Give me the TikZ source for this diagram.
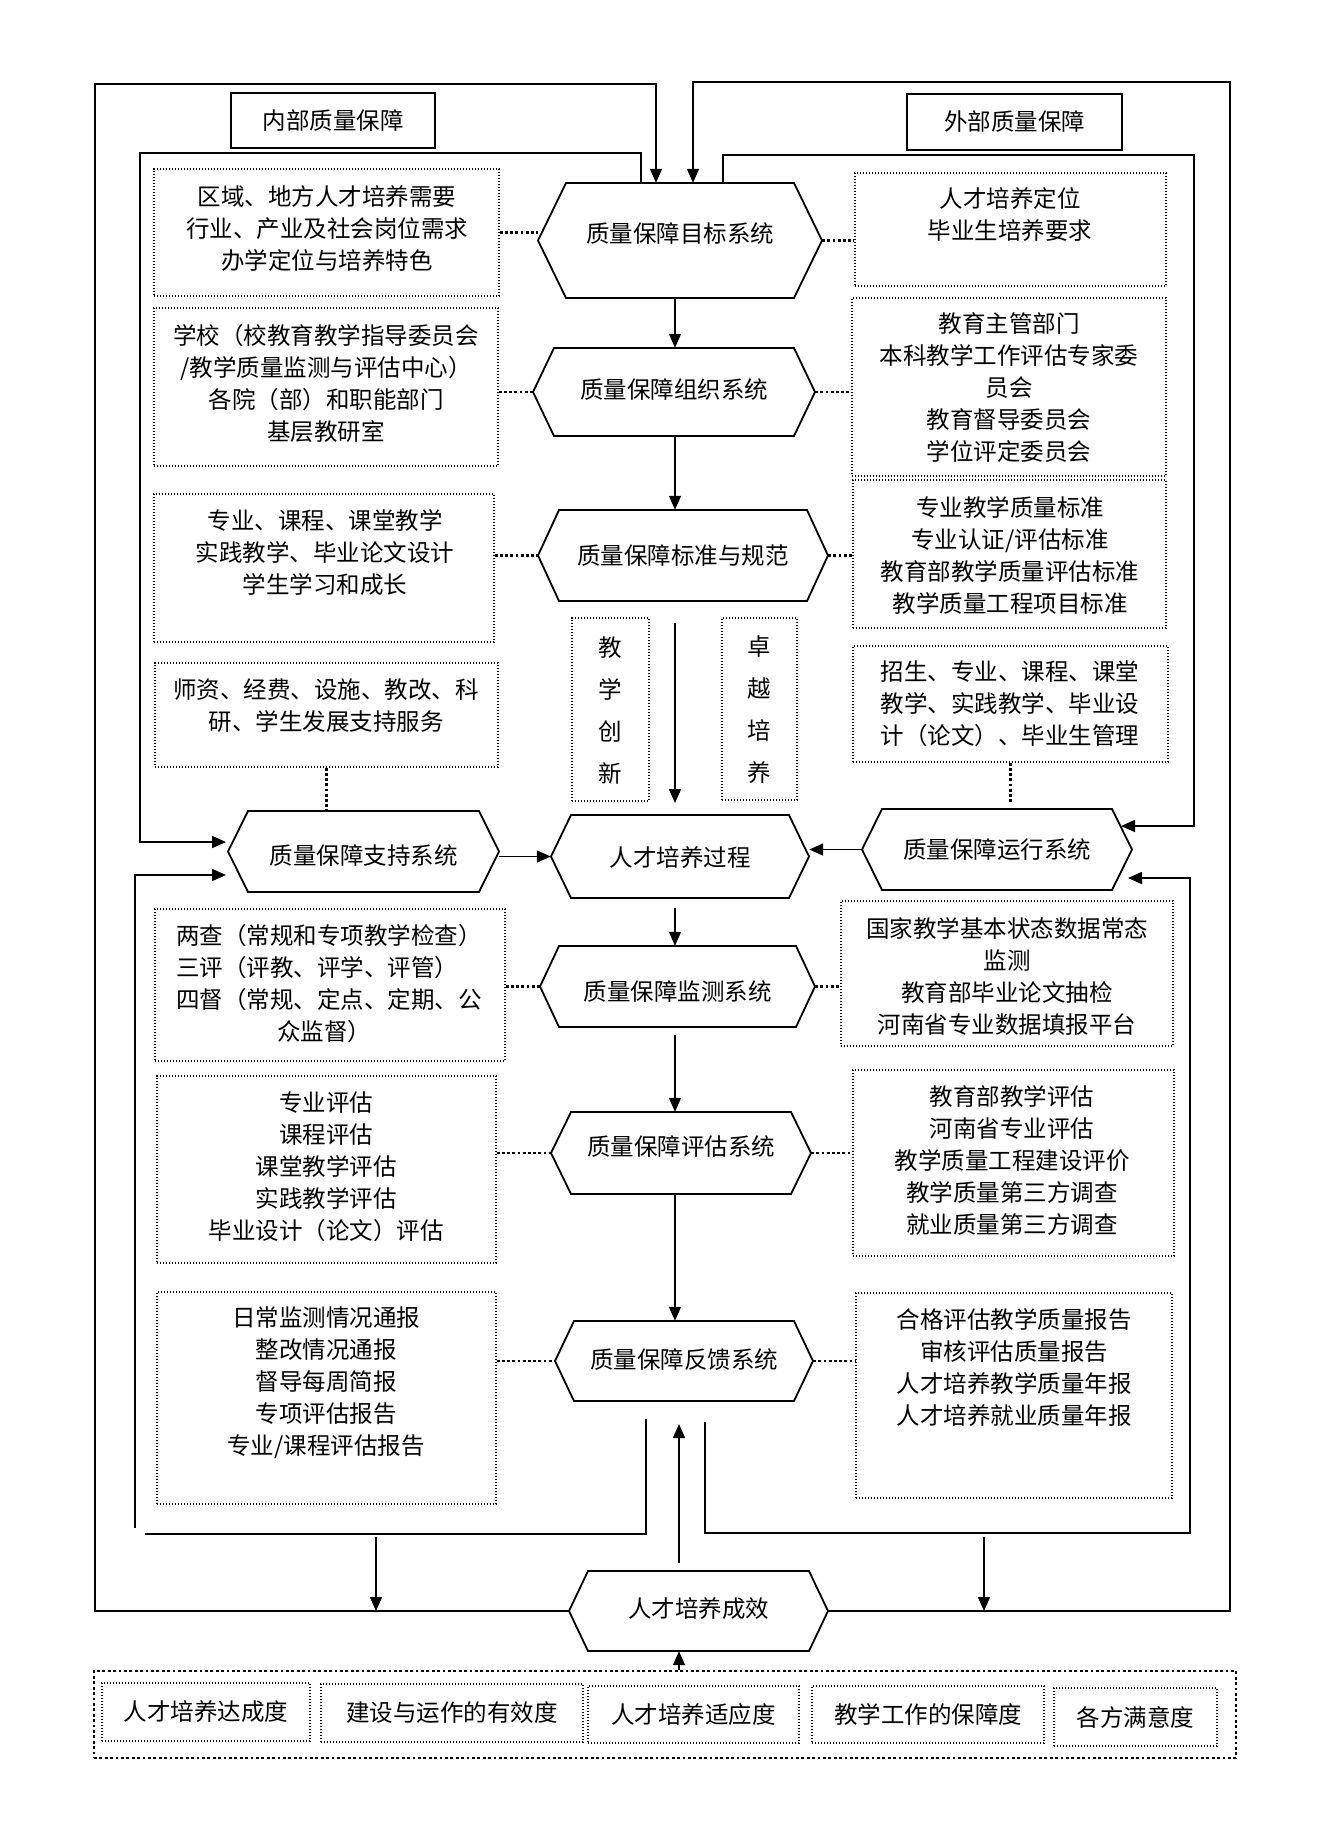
\documentclass[tikz,border=0pt]{standalone}
\usepackage{fontspec}
\setmainfont{Noto Sans CJK SC}
\usetikzlibrary{arrows.meta}
\tikzset{
  ln/.style={line width=1.6pt},
  arr/.style={line width=1.6pt,-{Triangle[length=14pt,width=12pt]}},
  hexln/.style={line width=1.8pt,line join=miter},
  txt/.style={align=center,inner sep=0pt,font=\fontsize{23.5}{32}\selectfont},
  vtxt/.style={align=center,inner sep=0pt,font=\fontsize{23.5}{42}\selectfont},
  dotbox/.style={draw,line width=1.4pt,dash pattern=on 1.4pt off 1.6pt,inner sep=0pt},
  dotlink/.style={line width=2.8pt,dash pattern=on 2.8pt off 2.4pt},
  lblbox/.style={draw,line width=1.8pt,inner sep=0pt,font=\fontsize{23.5}{32}\selectfont},
  outerdot/.style={draw,line width=2.8pt,dash pattern=on 2.8pt off 2.6pt,inner sep=0pt},
}
% #1 name, #2 left tip x, #3 right tip x, #4 top y, #5 bottom y, #6 inset, #7 text, #8 text raise
\newcommand\hexbox[8]{%
  \draw[hexln] (#2,{(#4+#5)/2}) -- ({#2+#6},#4) -- ({#3-#6},#4) -- (#3,{(#4+#5)/2}) -- ({#3-#6},#5) -- ({#2+#6},#5) -- cycle;
  \node[txt,minimum width={#3-#2},minimum height={#5-#4}] (#1) at ({(#2+#3)/2},{(#4+#5)/2}) {\raisebox{#8}[\height][\depth]{#7}};
}
% #1 name, #2 x1, #3 y1, #4 x2, #5 y2
\newcommand\dbox[5]{%
  \node[dotbox,minimum width={#4-#2},minimum height={#5-#3}] (#1) at ({(#2+#4)/2},{(#3+#5)/2}) {};
}
\begin{document}
\begin{tikzpicture}[x=1pt,y=-1pt]
\useasboundingbox (0,0) rectangle (1328,1824);

% label boxes
\node[lblbox,minimum width=204,minimum height=55] (IN) at (333,120.5) {内部质量保障\hspace{18pt}};
\node[lblbox,minimum width=215,minimum height=56] (EX) at (1014.5,122) {外部质量保障\hspace{32pt}};

% hexagons
\hexbox{H1}{538}{822}{183}{298}{28}{质量保障目标系统}{7pt}
\hexbox{H2}{533}{815}{348}{436}{21}{质量保障组织系统}{2pt}
\hexbox{H3}{538}{828}{510}{601}{21}{质量保障标准与规范}{0pt}
\hexbox{HS}{228}{499}{811}{892}{20}{质量保障支持系统}{-4pt}
\hexbox{HP}{551}{809}{815}{898}{20}{人才培养过程}{-1pt}
\hexbox{HR}{862}{1132}{809}{890}{20}{质量保障运行系统}{0pt}
\hexbox{HM}{540}{815}{946}{1027}{19}{质量保障监测系统}{-5pt}
\hexbox{HE}{551}{811}{1112}{1194}{20}{质量保障评估系统}{6pt}
\hexbox{HF}{555}{813}{1321}{1401}{19}{质量保障反馈系统}{1pt}
\hexbox{HO}{569}{828}{1571}{1651}{19}{人才培养成效}{2pt}

% left dotted boxes
\dbox{L1}{154}{169}{499}{296}
\dbox{L2}{154}{308}{498}{466}
\dbox{L3}{154}{494}{494}{642}
\dbox{L4}{155}{663}{498}{767}
\dbox{L5}{155}{909}{505}{1061}
\dbox{L6}{157}{1076}{496}{1263}
\dbox{L7}{157}{1292}{496}{1504}
% right dotted boxes
\dbox{R1}{855}{173}{1166}{286}
\dbox{R2}{852}{298}{1166}{476}
\dbox{R3}{853}{480}{1166}{628}
\dbox{R4}{853}{646}{1168}{762}
\dbox{R5}{841}{901}{1173}{1046}
\dbox{R6}{853}{1070}{1174}{1256}
\dbox{R7}{856}{1293}{1172}{1498}
% vertical boxes
\dbox{V1}{572}{618}{649}{801}
\dbox{V2}{722}{618}{797}{800}

% texts in boxes
\node[txt] (L1t) at (327,229) {区域、地方人才培养需要\\行业、产业及社会岗位需求\\办学定位与培养特色};
\node[txt] (L2t) at (326,383) {学校（校教育教学指导委员会\\/教学质量监测与评估中心）\\各院（部）和职能部门\\基层教研室};
\node[txt] (L3t) at (325,553) {专业、课程、课堂教学\\实践教学、毕业论文设计\\学生学习和成长};
\node[txt] (L4t) at (326,706) {师资、经费、设施、教改、科\\研、学生发展支持服务};
\node[txt,align=left,anchor=west] (L5t) at (176,984) {两查（常规和专项教学检查）\\三评（评教、评学、评管）\\四督（常规、定点、定期、公\\\hspace*{4.3em}众监督）};
\node[txt] (L6t) at (326,1167) {专业评估\\课程评估\\课堂教学评估\\实践教学评估\\毕业设计（论文）评估};
\node[txt] (L7t) at (326,1383) {日常监测情况通报\\整改情况通报\\督导每周简报\\专项评估报告\\专业/课程评估报告};

\node[txt] (R1t) at (1010,215) {人才培养定位\\毕业生培养要求};
\node[txt] (R2t) at (1009,388) {教育主管部门\\本科教学工作评估专家委\\员会\\教育督导委员会\\学位评定委员会};
\node[txt] (R3t) at (1010,555) {专业教学质量标准\\专业认证/评估标准\\教育部教学质量评估标准\\教学质量工程项目标准};
\node[txt] (R4t) at (1010,704) {招生、专业、课程、课堂\\教学、实践教学、毕业设\\计（论文）、毕业生管理};
\node[txt] (R5t) at (1007,976) {国家教学基本状态数据常态\\监测\\教育部毕业论文抽检\\河南省专业数据填报平台};
\node[txt] (R6t) at (1012,1160) {教育部教学评估\\河南省专业评估\\教学质量工程建设评价\\教学质量第三方调查\\就业质量第三方调查};
\node[txt] (R7t) at (1014,1368) {合格评估教学质量报告\\审核评估质量报告\\人才培养教学质量年报\\人才培养就业质量年报};

\node[vtxt] (V1t) at (610.5,710) {教\\学\\创\\新};
\node[vtxt] (V2t) at (759.5,710) {卓\\越\\培\\养};

% bottom container and boxes
\node[outerdot,minimum width=1142,minimum height=87] (CT) at (665,1714.5) {};
\node[dotbox,txt,minimum width=208,minimum height=58] (B1) at (206,1712) {人才培养达成度};
\node[dotbox,txt,minimum width=262,minimum height=58] (B2) at (452,1713) {建设与运作的有效度};
\node[dotbox,txt,minimum width=211,minimum height=57] (B3) at (693.5,1714.5) {人才培养适应度};
\node[dotbox,txt,minimum width=232,minimum height=57] (B4) at (928,1714.5) {教学工作的保障度};
\node[dotbox,txt,minimum width=163,minimum height=58] (B5) at (1135.5,1717) {各方满意度};

% dotted links
\draw[dotlink] (L1.east) -- (L1.east -| H1.west);
\draw[dotlink] (H1.east) -- (H1.east -| R1.west);
\draw[dotlink] (H2.west -| L2.east) -- (H2.west);
\draw[dotlink] (H2.east) -- (H2.east -| R2.west);
\draw[dotlink] (H3.west -| L3.east) -- (H3.west);
\draw[dotlink] (H3.east) -- (H3.east -| R3.west);
\draw[dotlink] (L4.south) -- (L4.south |- HS.north);
\coordinate (r4e) at (1010.5,803);
\draw[dotlink] (R4.south) -- (r4e);
\draw[dotlink] (HM.west -| L5.east) -- (HM.west);
\draw[dotlink] (HM.east) -- (HM.east -| R5.west);
\draw[dotlink] (HE.west -| L6.east) -- (HE.west);
\draw[dotlink] (HE.east) -- (HE.east -| R6.west);
\draw[dotlink] (HF.west -| L7.east) -- (HF.west);
\draw[dotlink] (HF.east) -- (HF.east -| R7.west);

% outer loops
\coordinate (oL1) at (95,1611);
\coordinate (oL2) at (95,84);
\coordinate (oL3) at (656,84);
\draw[arr] (HO.west) -- (oL1) -- (oL2) -- (oL3) -- (oL3 |- H1.north);
\coordinate (oR1) at (1230,1611);
\coordinate (oR2) at (1230,82);
\coordinate (oR3) at (693,82);
\draw[arr] (HO.east) -- (oR1) -- (oR2) -- (oR3) -- (oR3 |- H1.north);

% inner top loops
\coordinate (iL1) at (641,153);
\coordinate (iL2) at (140,153);
\coordinate (iL3) at (140,842);
\coordinate (iL4) at (226,842);
\draw[arr] (iL1 |- H1.north) -- (iL1) -- (iL2) -- (iL3) -- (iL4);
\coordinate (iR1) at (723,155);
\coordinate (iR2) at (1194,155);
\coordinate (iR3) at (1194,826);
\coordinate (iR4) at (1121,826);
\draw[arr] (iR1 |- H1.north) -- (iR1) -- (iR2) -- (iR3) -- (iR4);

% inner bottom loops
\coordinate (bL1) at (646,1419);
\coordinate (bL2) at (646,1534);
\coordinate (bL3) at (145,1534);
\coordinate (bL4) at (135,1528);
\coordinate (bL5) at (135,875);
\coordinate (bL6) at (226,875);
\draw[ln] (bL1) -- (bL2) -- (bL3);
\draw[arr] (bL4) -- (bL5) -- (bL6);
\coordinate (bR1) at (705,1422);
\coordinate (bR2) at (705,1533);
\coordinate (bR3) at (1190,1533);
\coordinate (bR4) at (1190,878);
\coordinate (bR5) at (1128,878);
\draw[arr] (bR1) -- (bR2) -- (bR3) -- (bR4) -- (bR5);

% arrows down onto bottom line
\coordinate (dA) at (376,1537);
\coordinate (dB) at (984,1537);
\draw[arr] (dA) -- (dA |- oL1);
\draw[arr] (dB) -- (dB |- oR1);

% central arrows
\coordinate (cx) at (675,0);
\coordinate (cx2) at (679,0);
\draw[arr] (H1.south -| cx) -- (H2.north -| cx);
\draw[arr] (H2.south -| cx) -- (H3.north -| cx);
\coordinate (g1) at (675,623);
\coordinate (g2) at (675,803);
\draw[arr] (g1) -- (g2);
\coordinate (g3) at (675,908);
\draw[arr] (g3) -- (g3 |- HM.north);
\coordinate (g4) at (675,1035);
\draw[arr] (g4) -- (g4 |- HE.north);
\draw[arr] (HE.south -| cx) -- (HF.north -| cx);
\coordinate (g5) at (679,1563);
\coordinate (g6) at (679,1424);
\draw[arr] (g5) -- (g6);
\draw[arr] (CT.north -| cx2) -- (HO.south -| cx2);
\draw[arr] (HS.east |- HP.west) -- (HP.west);
\draw[arr] (HR.west) -- (HR.west -| HP.east);

\end{tikzpicture}
\end{document}
